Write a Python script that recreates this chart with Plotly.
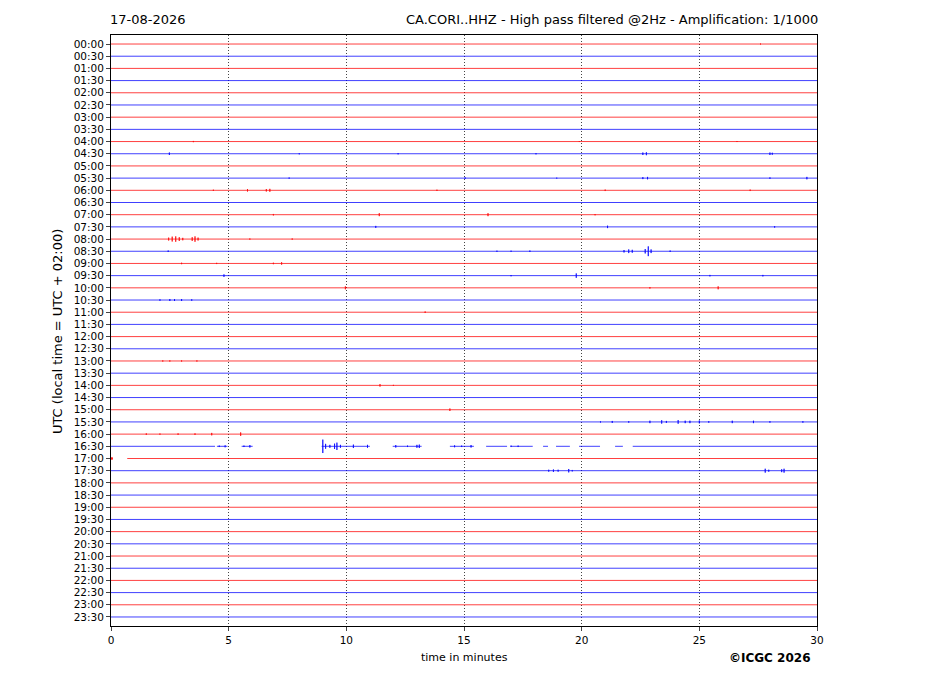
import plotly.graph_objects as go

# one trace row per half hour
row_labels = ["00:00", "00:30", "01:00", "01:30", "02:00", "02:30", "03:00", "03:30",
              "04:00", "04:30", "05:00", "05:30", "06:00", "06:30", "07:00", "07:30",
              "08:00", "08:30", "09:00", "09:30", "10:00", "10:30", "11:00", "11:30",
              "12:00", "12:30", "13:00", "13:30", "14:00", "14:30", "15:00", "15:30",
              "16:00", "16:30", "17:00", "17:30", "18:00", "18:30", "19:00", "19:30",
              "20:00", "20:30", "21:00", "21:30", "22:00", "22:30", "23:00", "23:30"]
minute_ticks = [0, 5, 10, 15, 20, 25, 30]

# wiggles: row, minute, half amplitude (in row units)
event_row = ["00:00",
             "04:00", "04:00", "04:00",
             "04:30", "04:30", "04:30", "04:30", "04:30", "04:30", "04:30", "04:30",
             "05:30", "05:30", "05:30", "05:30", "05:30", "05:30", "05:30",
             "06:00", "06:00", "06:00", "06:00", "06:00", "06:00", "06:00",
             "07:00", "07:00", "07:00", "07:00",
             "07:30", "07:30", "07:30",
             "08:00", "08:00", "08:00", "08:00", "08:00", "08:00", "08:00", "08:00", "08:00", "08:00",
             "08:30", "08:30", "08:30", "08:30", "08:30", "08:30", "08:30", "08:30", "08:30", "08:30", "08:30",
             "09:00", "09:00", "09:00", "09:00",
             "09:30", "09:30", "09:30", "09:30", "09:30",
             "10:00", "10:00", "10:00",
             "10:30", "10:30", "10:30", "10:30", "10:30",
             "11:00",
             "13:00", "13:00", "13:00", "13:00",
             "14:00", "14:00",
             "15:00",
             "15:30", "15:30", "15:30", "15:30", "15:30", "15:30", "15:30", "15:30",
             "15:30", "15:30", "15:30", "15:30", "15:30", "15:30", "15:30",
             "16:00", "16:00", "16:00", "16:00", "16:00", "16:00",
             "16:30", "16:30", "16:30", "16:30", "16:30", "16:30", "16:30", "16:30", "16:30", "16:30",
             "16:30", "16:30", "16:30", "16:30", "16:30", "16:30", "16:30", "16:30", "16:30", "16:30", "16:30",
             "17:00",
             "17:30", "17:30", "17:30", "17:30", "17:30", "17:30", "17:30", "17:30", "17:30"]
event_min = [27.6,
             3.5, 19.9, 26.6,
             2.48, 8.0, 12.2, 18.06, 22.6, 22.75, 28.0, 28.1,
             7.57, 15.05, 18.94, 22.6, 22.8, 28.0, 29.57,
             4.35, 5.8, 6.6, 6.75, 13.85, 21.0, 27.16,
             6.9, 11.4, 16.02, 20.57,
             11.25, 21.1, 28.2,
             2.45, 2.6, 2.75, 2.9, 3.05, 3.45, 3.57, 3.7, 5.9, 7.7,
             2.43, 16.4, 17.0, 17.8, 21.8, 22.0, 22.15, 22.7, 22.83, 22.95, 23.76,
             3.0, 4.49, 6.9, 7.25,
             4.8, 17.0, 19.77, 25.45, 27.7,
             9.96, 22.9, 25.8,
             2.08, 2.5, 2.7, 3.0, 3.43,
             13.35,
             2.2, 2.5, 3.0, 3.65,
             11.43, 12.0,
             14.4,
             20.8, 21.3, 22.0, 22.9, 23.4, 23.6, 24.1,
             24.4, 24.6, 25.0, 25.4, 26.4, 27.3, 28.0, 29.4,
             1.5, 2.08, 2.85, 3.57, 4.28, 5.51,
             4.6, 4.85, 5.65, 5.9, 9.0, 9.12, 9.3, 9.5, 9.6, 9.75,
             10.3, 10.9, 12.1, 12.6, 13.0, 13.1, 14.6, 14.9, 15.3, 17.0, 17.3,
             0.04,
             18.6, 18.8, 19.0, 19.45, 19.6, 27.8, 27.95, 28.5, 28.6]
event_amp = [0.04,
             0.05, 0.04, 0.04,
             0.1, 0.05, 0.05, 0.05, 0.1, 0.12, 0.1, 0.08,
             0.05, 0.06, 0.04, 0.08, 0.1, 0.06, 0.1,
             0.05, 0.1, 0.1, 0.12, 0.05, 0.06, 0.06,
             0.06, 0.12, 0.12, 0.05,
             0.08, 0.1, 0.06,
             0.12, 0.2, 0.22, 0.15, 0.1, 0.15, 0.22, 0.12, 0.05, 0.05,
             0.06, 0.05, 0.05, 0.06, 0.1, 0.15, 0.12, 0.18, 0.4, 0.15, 0.06,
             0.06, 0.05, 0.06, 0.1,
             0.1, 0.05, 0.18, 0.06, 0.06,
             0.12, 0.06, 0.12,
             0.06, 0.08, 0.08, 0.08, 0.06,
             0.06,
             0.05, 0.05, 0.05, 0.05,
             0.1, 0.04,
             0.1,
             0.05, 0.08, 0.06, 0.1, 0.14, 0.08, 0.15,
             0.1, 0.1, 0.12, 0.06, 0.1, 0.1, 0.06, 0.06,
             0.06, 0.05, 0.06, 0.06, 0.1, 0.14,
             0.06, 0.08, 0.06, 0.1, 0.55, 0.2, 0.12, 0.22, 0.3, 0.12,
             0.14, 0.12, 0.1, 0.06, 0.12, 0.14, 0.08, 0.06, 0.1, 0.06, 0.06,
             0.12,
             0.08, 0.1, 0.08, 0.14, 0.06, 0.16, 0.08, 0.12, 0.16]

# data gaps (no samples)
gap_row = ["16:30"] * 12 + ["17:00"]
gap_start = [4.42, 4.95, 6.02, 11.0, 13.2, 15.42, 16.83, 17.92, 18.57, 19.5, 20.78, 21.75, 0.08]
gap_end = [4.5, 5.55, 8.95, 11.97, 14.4, 15.94, 16.98, 18.36, 18.91, 19.89, 21.42, 22.17, 0.69]

row_colors = ["rgba(255,0,0,0.75)", "rgba(0,0,255,0.75)"]


def row_trace(i):
    label = row_labels[i]
    gaps = sorted((s, e) for r, s, e in zip(gap_row, gap_start, gap_end) if r == label)
    segs = []
    t0 = 0.0
    for s, e in gaps:
        segs.append((t0, s))
        t0 = e
    segs.append((t0, 30.0))
    evs = sorted((m, a) for r, m, a in zip(event_row, event_min, event_amp) if r == label)
    xs, ys = [], []
    for a, b in segs:
        xs.append(a); ys.append(i)
        for m, amp in evs:
            if a < m < b:
                xs += [m, m, m, m]
                ys += [i, i - amp, i + amp, i]
        xs.append(b); ys.append(i)
        xs.append(None); ys.append(None)
    return go.Scatter(x=xs, y=ys, mode="lines", hoverinfo="skip", showlegend=False,
                      line=dict(color=row_colors[i % 2], width=1))


fig = go.Figure([row_trace(i) for i in range(len(row_labels))])

font = "DejaVu Sans, sans-serif"
fig.update_xaxes(range=[0, 30], tickvals=minute_ticks, showgrid=True, gridcolor="#444",
                 griddash="1px,2px", gridwidth=1, zeroline=False, showline=True, mirror=True,
                 linecolor="black", linewidth=1, ticks="outside", ticklen=4,
                 tickfont=dict(size=10.5, color="black"))
fig.update_yaxes(range=[47.74, -0.74], tickvals=list(range(len(row_labels))), ticktext=row_labels,
                 showgrid=False, zeroline=False, showline=True, mirror=True,
                 linecolor="black", linewidth=1, ticks="outside", ticklen=4,
                 tickfont=dict(size=10.5, color="black"))

ann = [
    dict(text="17-08-2026", x=-0.004, y=1.0254, xanchor="left", yanchor="middle", font=dict(size=13)),
    dict(text="CA.CORI..HHZ - High pass filtered @2Hz - Amplification: 1/1000", x=1.0042, y=1.0254,
         xanchor="right", yanchor="middle", font=dict(size=13)),
    dict(text="UTC (local time = UTC + 02:00)", x=-0.0765, y=0.499, textangle=-90,
         xanchor="center", yanchor="middle", font=dict(size=13)),
    dict(text="time in minutes", x=0.5, y=-0.0525, xanchor="center", yanchor="middle", font=dict(size=11)),
    dict(text="<b>©ICGC 2026</b>", x=0.9334, y=-0.054, xanchor="center", yanchor="middle", font=dict(size=12)),
]
for a in ann:
    a.update(xref="paper", yref="paper", showarrow=False)
    a["font"].update(family=font, color="black")

# the page puts the figure 8px in from the top-left corner
fig.update_layout(width=919, height=688, margin=dict(l=103, r=110, t=27, b=70),
                  paper_bgcolor="white", plot_bgcolor="white", annotations=ann,
                  font=dict(family=font, color="black"), hovermode=False)

fig.write_html("out.html")
